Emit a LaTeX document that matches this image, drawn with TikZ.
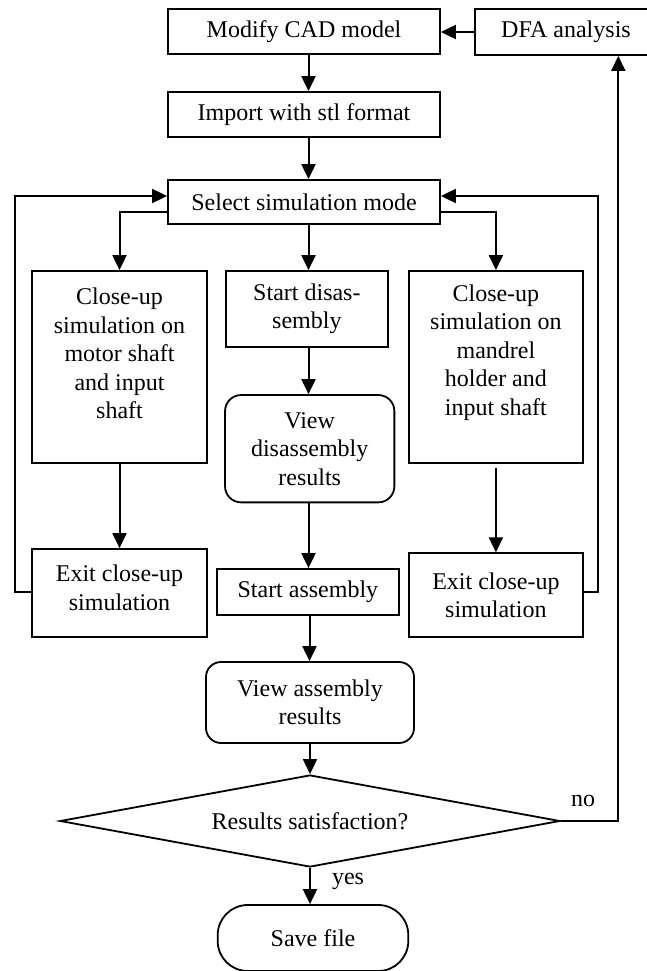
\documentclass[tikz,border=0pt]{standalone}
\usepackage{fontspec}
\setmainfont{Liberation Serif}
\usetikzlibrary{arrows.meta,shapes.geometric}
\begin{document}
\begin{tikzpicture}[x=1pt,y=-1pt,
  every node/.style={font=\fontsize{24}{28.5}\selectfont, inner sep=0pt},
  box/.style={draw, line width=1.8pt, rectangle},
  rbox/.style={box, rounded corners=16pt},
  flow/.style={line width=2pt, -{Triangle[length=15pt,width=14pt]}},
  lbl/.style={align=center}]
\useasboundingbox (0,0) rectangle (646,971);

% guide coordinates for the connector routes
\coordinate (cx)  at (308.5,0);
\coordinate (cx2) at (309.5,0);
\coordinate (hb)  at (0,212);
\coordinate (hl)  at (0,196);
\coordinate (lb)  at (0,592.3);
\coordinate (lx)  at (14.7,0);
\coordinate (rx)  at (598.3,0);
\coordinate (nx)  at (618.3,0);

% main column
\node[box, minimum width=272pt, minimum height=45pt] (mod) at (304,31.7) {Modify CAD model};
\node[box, minimum width=182pt, minimum height=46pt] (dfa) at (566,32) {DFA analysis};
\node[box, minimum width=272pt, minimum height=45pt] (imp) at (304,114.5) {Import with stl format};
\node[box, minimum width=272pt, minimum height=44pt] (sel) at (304,202) {Select simulation mode};

% left branch
\node[box, minimum width=174.4pt, minimum height=192pt] (cl) at (119.5,367) {};
\node[lbl] (clt) at (119.5,353.5) {Close-up\\simulation on\\motor shaft\\and input\\shaft};
\node[box, minimum width=174.4pt, minimum height=88.3pt] (el) at (119.5,593.2) {};
\node[lbl] (elt) at (119.5,588) {Exit close-up\\simulation};

% middle branch
\node[box, lbl, minimum width=161.7pt, minimum height=75.7pt] (sd) at (306.9,308.9) {Start disas-\\sembly};
\node[rbox, lbl, minimum width=169.3pt, minimum height=107.3pt] (vd) at (309.7,448.7) {View\\disassembly\\results};
\node[box, minimum width=182.3pt, minimum height=46pt] (sa) at (307.9,592) {Start assembly};

% right branch
\node[box, minimum width=173.7pt, minimum height=192pt] (cr) at (495.9,367) {};
\node[lbl] (crt) at (495.9,352.5) {Close-up\\simulation on\\mandrel\\holder and\\input shaft};
\node[box, lbl, minimum width=173.7pt, minimum height=84pt] (er) at (495.9,595.3) {Exit close-up\\simulation};

% results and end
\node[rbox, lbl, rounded corners=15pt, minimum width=208pt, minimum height=81pt] (va) at (310,702.5) {View assembly\\results};
\node[diamond, draw, line width=1.8pt, shape aspect=5.43, minimum width=500pt, minimum height=92pt] (dec) at (310,821) {Results satisfaction?};
\node[box, rounded corners=30pt, minimum width=190.6pt, minimum height=66pt] (save) at (313,938) {Save file};
\node (yes) at (348,881) {yes};
\node (no) at (583,801) {no};

% connectors
\draw[flow] (dfa.west) -- (mod.east |- dfa.west);
\draw[flow] (mod.south -| cx) -- (imp.north -| cx);
\draw[flow] (imp.south -| cx) -- (sel.north -| cx);
\draw[flow] (sel.south -| cx) -- (sd.north -| cx);
\draw[flow] (sel.west |- hb) -| (cl.north);
\draw[flow] (sel.east |- hb) -| (cr.north);
\draw[flow] (cl.south) -- (el.north);
\draw[flow, shorten <=3.7pt] (cr.south) -- (er.north);
\draw[flow] (sd.south -| cx) -- (vd.north -| cx);
\draw[flow] (vd.south -| cx) -- (sa.north -| cx);
\draw[flow] (sa.south -| cx2) -- (va.north -| cx2);
\draw[flow] (va.south) -- (dec.north);
\draw[flow] (dec.south) -- (dec.south |- save.north);
\draw[flow] (el.west |- lb) -- (lx |- lb) -- (lx |- hl) -- (sel.west |- hl);
\draw[flow] (er.east |- lb) -- (rx |- lb) -- (rx |- hl) -- (sel.east |- hl);
\draw[flow] (dec.east) -- (nx |- dec.east) -- (nx |- dfa.south);
\end{tikzpicture}
\end{document}
